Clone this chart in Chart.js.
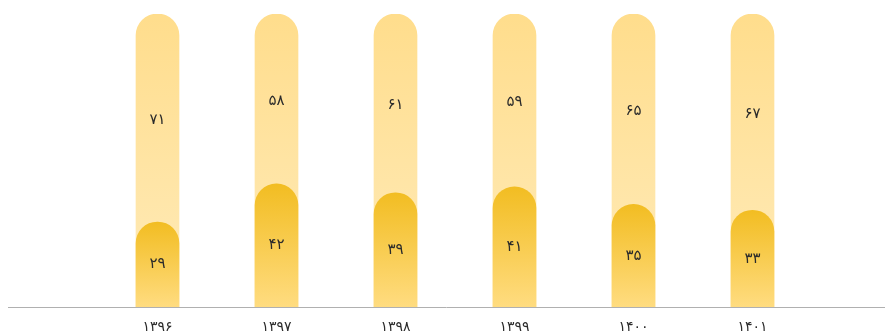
<!DOCTYPE html>
<html>
<head>
<meta charset="utf-8">
<script src="https://cdn.jsdelivr.net/npm/chart.js@4/dist/chart.umd.min.js"></script>
<style>
html,body{margin:0;padding:0;background:#fff;}
#wrap{width:891px;height:336px;}
</style>
</head>
<body>
<div id="wrap"><canvas id="c" width="891" height="336"></canvas></div>
<script>
const categories = ['۱۳۹۶','۱۳۹۷','۱۳۹۸','۱۳۹۹','۱۴۰۰','۱۴۰۱'];
const lowerValues = [29, 42, 39, 41, 35, 33];
const upperValues = [71, 58, 61, 59, 65, 67];
const toFa = n => String(n).replace(/\d/g, d => '۰۱۲۳۴۵۶۷۸۹'[d]);

const totals = lowerValues.map((v, i) => v + upperValues[i]);

function barGradient(ctx, top, bottom) {
  const chart = ctx.chart;
  const area = chart.chartArea;
  if (!area) return top;
  const y = chart.scales.y;
  const v = ctx.raw;
  const yt = y.getPixelForValue(v);
  const yb = y.getPixelForValue(0);
  const g = chart.ctx.createLinearGradient(0, yt, 0, yb);
  g.addColorStop(0, top);
  g.addColorStop(1, bottom);
  return g;
}

const labelPlugin = {
  id: 'labels',
  afterDatasetsDraw(chart) {
    const c = chart.ctx;
    const lower = chart.getDatasetMeta(1).data;
    const upper = chart.getDatasetMeta(0).data;
    c.save();
    c.font = '15px "DejaVu Sans"';
    c.fillStyle = '#2b2b2b';
    c.textAlign = 'center';
    c.textBaseline = 'middle';
    lower.forEach((el, i) => {
      c.fillText(toFa(lowerValues[i]), el.x, (el.y + el.base) / 2);
      const u = upper[i];
      c.fillText(toFa(upperValues[i]), u.x, (u.y + el.y) / 2 + 2);
    });
    const yb = chart.chartArea.bottom + 0.5;
    c.strokeStyle = '#b0b0b0';
    c.lineWidth = 1;
    c.beginPath();
    c.moveTo(8, yb);
    c.lineTo(885, yb);
    c.stroke();
    c.restore();
  }
};

new Chart(document.getElementById('c'), {
  type: 'bar',
  data: {
    labels: categories,
    datasets: [
      {
        label: 'upper',
        data: totals,
        order: 1,
        grouped: false,
        backgroundColor: ctx => barGradient(ctx, '#FFDD8C', '#FFEBBA'),
        borderRadius: 22,
        borderSkipped: 'start',
        barThickness: 43
      },
      {
        label: 'lower',
        data: lowerValues,
        order: 0,
        grouped: false,
        backgroundColor: ctx => barGradient(ctx, '#F2BD22', '#FFDC80'),
        borderRadius: 22,
        borderSkipped: 'start',
        barThickness: 43
      }
    ]
  },
  options: {
    responsive: false,
    animation: false,
    events: [],
    layout: { padding: { left: 98, right: 79, top: 14, bottom: 0 } },
    plugins: { legend: { display: false }, tooltip: { enabled: false } },
    scales: {
      x: {
        grid: { display: false },
        border: { display: false },
        ticks: { color: '#2b2b2b', font: { family: 'DejaVu Sans', size: 14 }, padding: 4 },
        afterFit: s => { s.height = 29; }
      },
      y: { display: false, min: 0, max: 100 }
    }
  },
  plugins: [labelPlugin]
});
</script>
</body>
</html>
